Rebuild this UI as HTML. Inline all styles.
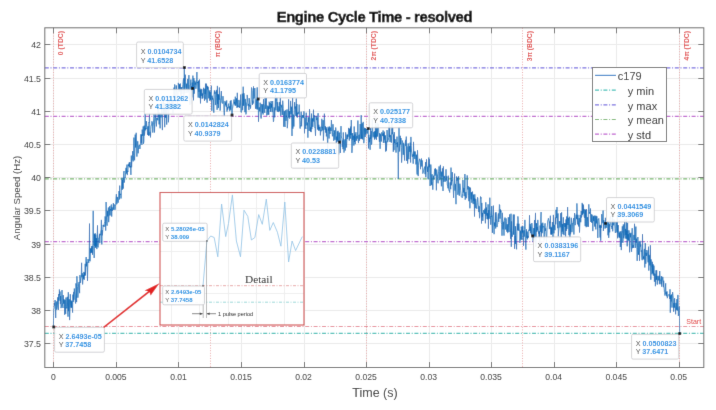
<!DOCTYPE html>
<html><head><meta charset="utf-8"><style>
html,body{margin:0;padding:0;background:#fff;}
svg{display:block;font-family:"Liberation Sans", sans-serif;}
</style></head><body>
<svg width="716" height="410" viewBox="0 0 716 410">
<defs><filter id="bl" x="0" y="0" width="100%" height="100%" filterUnits="userSpaceOnUse"><feConvolveMatrix order="3" kernelMatrix="1 10 1 10 100 10 1 10 1" edgeMode="duplicate" preserveAlpha="true"/></filter></defs>
<g filter="url(#bl)">
<rect width="716" height="410" fill="#fff"/>
<path d="M53.5 27.8V367.5M116.5 27.8V367.5M178.5 27.8V367.5M241.5 27.8V367.5M304.5 27.8V367.5M366.5 27.8V367.5M429.5 27.8V367.5M491.5 27.8V367.5M554.5 27.8V367.5M616.5 27.8V367.5M679.5 27.8V367.5M44.8 44.5H703.8M44.8 78.5H703.8M44.8 111.5H703.8M44.8 144.5H703.8M44.8 177.5H703.8M44.8 210.5H703.8M44.8 244.5H703.8M44.8 277.5H703.8M44.8 310.5H703.8M44.8 343.5H703.8" stroke="#ebebeb" stroke-width="1" fill="none"/>
<path d="M53.5 27.8V367.5M210.5 27.8V367.5M366.5 27.8V367.5M522.5 27.8V367.5M679.5 27.8V367.5" stroke="#eaa8a8" stroke-width="1" stroke-dasharray="1 1.6" fill="none"/>
<path d="M44.8 67.8H703.8" stroke="#7a70e0" stroke-opacity="1.0" stroke-width="1.2" stroke-dasharray="4 1.7 1 1.7" fill="none"/>
<path d="M44.8 116.3H703.8" stroke="#c060d0" stroke-opacity="1.0" stroke-width="1.2" stroke-dasharray="4 1.7 1 1.7" fill="none"/>
<path d="M44.8 241.6H703.8" stroke="#c060d0" stroke-opacity="1.0" stroke-width="1.2" stroke-dasharray="4 1.7 1 1.7" fill="none"/>
<path d="M44.8 178.8H703.8" stroke="#78b870" stroke-opacity="1.0" stroke-width="1.2" stroke-dasharray="4 1.7 1 1.7" fill="none"/>
<path d="M44.8 326.5H703.8" stroke="#e07080" stroke-opacity="0.8" stroke-width="1.2" stroke-dasharray="4 1.7 1 1.7" fill="none"/>
<path d="M44.8 333.4H703.8" stroke="#40c0b8" stroke-opacity="1.0" stroke-width="1.2" stroke-dasharray="4 1.7 1 1.7" fill="none"/>
<polyline points="53.4,327.0 53.7,309.5 54.1,308.3 54.4,303.0 54.7,305.5 55.1,300.0 55.4,308.2 55.7,318.0 56.1,302.4 56.4,301.5 56.7,309.7 57.0,308.1 57.4,305.6 57.7,297.3 58.0,304.6 58.4,310.0 58.7,294.0 59.0,300.7 59.4,289.5 59.7,295.2 60.0,291.5 60.4,304.1 60.7,295.8 61.0,308.1 61.4,306.8 61.7,303.8 62.0,290.0 62.3,302.4 62.7,306.5 63.0,308.0 63.3,295.1 63.7,303.7 64.0,299.3 64.3,300.0 64.7,314.8 65.0,299.9 65.3,306.4 65.7,313.9 66.0,297.5 66.3,306.3 66.7,308.4 67.0,307.8 67.3,296.8 67.6,306.9 68.0,316.7 68.3,292.2 68.6,311.2 69.0,305.5 69.3,299.3 69.6,320.1 70.0,309.9 70.3,294.2 70.6,303.9 71.0,307.7 71.3,300.6 71.6,307.8 72.0,301.2 72.3,307.5 72.6,312.6 72.9,294.6 73.3,301.8 73.6,291.9 73.9,299.8 74.3,288.5 74.6,292.7 74.9,294.8 75.3,301.9 75.6,303.5 75.9,283.4 76.3,286.9 76.6,302.1 76.9,276.2 77.3,286.5 77.6,287.9 77.9,297.7 78.2,292.2 78.6,283.8 78.9,282.2 79.2,281.9 79.6,293.2 79.9,275.1 80.2,279.0 80.6,282.9 80.9,278.8 81.2,277.7 81.6,262.8 81.9,276.8 82.2,273.2 82.6,284.4 82.9,280.2 83.2,275.1 83.6,278.8 83.9,271.9 84.2,279.8 84.5,272.7 84.9,276.0 85.2,263.8 85.5,275.2 85.9,260.0 86.2,257.0 86.5,266.3 86.9,261.9 87.2,267.6 87.5,280.9 87.9,259.3 88.2,259.0 88.5,262.6 88.9,263.0 89.2,258.2 89.5,223.6 89.8,260.9 90.2,261.2 90.5,248.4 90.8,252.9 91.2,253.0 91.5,246.2 91.8,252.8 92.2,245.8 92.5,254.8 92.8,249.6 93.2,210.8 93.5,243.9 93.8,245.7 94.2,258.0 94.5,234.0 94.8,245.9 95.1,233.2 95.5,247.8 95.8,234.5 96.1,246.4 96.5,238.1 96.8,249.1 97.1,241.6 97.5,225.4 97.8,245.9 98.1,247.4 98.5,239.7 98.8,238.0 99.1,238.0 99.5,233.8 99.8,243.2 100.1,234.4 100.4,235.2 100.8,230.6 101.1,230.0 101.4,219.9 101.8,244.4 102.1,230.1 102.4,235.3 102.8,229.7 103.1,224.9 103.4,226.3 103.8,224.9 104.1,226.9 104.4,223.3 104.8,221.5 105.1,216.4 105.4,219.3 105.7,230.6 106.1,202.0 106.4,216.0 106.7,221.3 107.1,225.7 107.4,210.9 107.7,216.4 108.1,210.9 108.4,207.5 108.7,222.2 109.1,214.8 109.4,214.9 109.7,206.2 110.1,215.5 110.4,209.1 110.7,210.4 111.0,205.5 111.4,204.5 111.7,216.6 112.0,207.4 112.4,210.9 112.7,209.3 113.0,206.4 113.4,203.0 113.7,209.9 114.0,204.3 114.4,204.9 114.7,205.0 115.0,209.8 115.4,206.5 115.7,204.2 116.0,198.0 116.4,194.1 116.7,204.3 117.0,203.8 117.3,196.9 117.7,199.2 118.0,202.8 118.3,202.5 118.7,198.9 119.0,191.0 119.3,199.5 119.7,185.6 120.0,194.6 120.3,194.7 120.7,193.8 121.0,198.5 121.3,195.3 121.7,181.2 122.0,177.7 122.3,189.8 122.6,179.9 123.0,185.1 123.3,188.6 123.6,173.8 124.0,171.0 124.3,182.6 124.6,180.3 125.0,177.7 125.3,178.0 125.6,172.4 126.0,167.8 126.3,173.7 126.6,168.8 127.0,164.6 127.3,175.1 127.6,170.8 127.9,172.0 128.3,164.3 128.6,166.2 128.9,163.3 129.3,162.4 129.6,167.3 129.9,162.0 130.3,167.3 130.6,166.3 130.9,174.9 131.3,155.6 131.6,167.3 131.9,160.8 132.3,160.0 132.6,151.1 132.9,156.5 133.2,161.4 133.6,155.4 133.9,137.6 134.2,153.1 134.6,160.3 134.9,152.1 135.2,134.6 135.6,147.5 135.9,140.0 136.2,132.8 136.6,147.0 136.9,156.6 137.2,148.9 137.6,141.2 137.9,141.3 138.2,153.3 138.5,147.5 138.9,145.7 139.2,144.9 139.5,144.9 139.9,149.0 140.2,146.6 140.5,143.0 140.9,134.3 141.2,142.9 141.5,134.5 141.9,144.9 142.2,129.6 142.5,135.9 142.9,135.5 143.2,126.4 143.5,143.8 143.9,141.6 144.2,125.6 144.5,135.5 144.8,132.1 145.2,113.8 145.5,130.3 145.8,128.0 146.2,129.1 146.5,121.1 146.8,126.1 147.2,126.5 147.5,134.9 147.8,129.1 148.2,126.2 148.5,135.9 148.8,122.2 149.2,122.9 149.5,113.1 149.8,135.4 150.1,131.8 150.5,137.4 150.8,129.4 151.1,125.4 151.5,125.4 151.8,121.4 152.1,121.4 152.5,123.0 152.8,132.6 153.1,126.2 153.5,122.7 153.8,118.7 154.1,113.7 154.5,132.5 154.8,124.7 155.1,121.8 155.4,118.7 155.8,113.6 156.1,120.2 156.4,126.4 156.8,118.1 157.1,119.0 157.4,118.5 157.8,120.3 158.1,108.9 158.4,117.1 158.8,113.0 159.1,124.4 159.4,112.5 159.8,121.7 160.1,128.3 160.4,115.6 160.7,113.0 161.1,117.4 161.4,115.6 161.7,101.8 162.1,117.5 162.4,130.1 162.7,112.2 163.1,112.6 163.4,98.9 163.7,114.3 164.1,103.2 164.4,103.9 164.7,127.2 165.1,103.2 165.4,115.7 165.7,117.8 166.0,109.6 166.4,111.6 166.7,124.6 167.0,106.1 167.4,103.2 167.7,97.0 168.0,105.5 168.4,122.3 168.7,117.9 169.0,99.5 169.4,100.2 169.7,102.4 170.0,109.6 170.4,103.2 170.7,107.1 171.0,105.3 171.4,100.1 171.7,101.4 172.0,103.7 172.3,100.4 172.7,108.0 173.0,113.3 173.3,104.1 173.7,100.1 174.0,87.6 174.3,100.3 174.7,84.4 175.0,87.3 175.3,102.3 175.7,101.7 176.0,96.1 176.3,85.4 176.7,91.2 177.0,91.1 177.3,99.0 177.6,108.6 178.0,94.8 178.3,82.9 178.6,85.2 179.0,91.5 179.3,90.5 179.6,84.1 180.0,91.8 180.3,83.5 180.6,97.7 181.0,96.9 181.3,97.5 181.6,87.0 182.0,93.8 182.3,88.6 182.6,87.1 182.9,84.5 183.3,79.9 183.6,78.3 183.9,98.2 184.3,67.6 184.6,88.3 184.9,93.2 185.3,74.7 185.6,81.3 185.9,87.5 186.3,88.8 186.6,83.7 186.9,92.9 187.3,88.5 187.6,78.9 187.9,81.0 188.2,92.3 188.6,90.4 188.9,75.1 189.2,96.1 189.6,96.2 189.9,104.9 190.2,85.1 190.6,85.0 190.9,79.5 191.2,103.7 191.6,85.9 191.9,97.4 192.2,82.6 192.6,88.4 192.9,75.6 193.2,84.2 193.5,100.3 193.9,78.2 194.2,93.7 194.5,89.0 194.9,80.7 195.2,84.7 195.5,82.5 195.9,88.8 196.2,86.0 196.5,84.0 196.9,72.0 197.2,83.1 197.5,81.9 197.9,91.0 198.2,97.6 198.5,80.7 198.9,91.8 199.2,88.2 199.5,79.5 199.8,98.1 200.2,90.2 200.5,103.4 200.8,88.7 201.2,96.1 201.5,91.1 201.8,89.2 202.2,98.7 202.5,93.5 202.8,98.2 203.2,93.8 203.5,87.8 203.8,94.3 204.2,95.1 204.5,100.9 204.8,88.7 205.1,94.2 205.5,83.6 205.8,99.4 206.1,88.4 206.5,83.7 206.8,95.0 207.1,102.7 207.5,85.9 207.8,89.4 208.1,86.8 208.5,88.8 208.8,98.4 209.1,90.4 209.5,91.8 209.8,100.9 210.1,91.9 210.4,100.1 210.8,91.0 211.1,89.4 211.4,85.7 211.8,110.8 212.1,95.7 212.4,99.4 212.8,97.9 213.1,99.9 213.4,99.8 213.8,112.7 214.1,93.6 214.4,90.4 214.8,93.9 215.1,91.7 215.4,104.8 215.7,105.1 216.1,93.1 216.4,89.9 216.7,97.2 217.1,109.8 217.4,85.9 217.7,104.1 218.1,94.0 218.4,108.1 218.7,94.7 219.1,99.9 219.4,87.5 219.7,94.8 220.1,110.6 220.4,108.2 220.7,100.1 221.0,97.3 221.4,91.0 221.7,100.8 222.0,103.0 222.4,103.6 222.7,103.3 223.0,96.1 223.4,103.3 223.7,103.4 224.0,112.5 224.4,116.9 224.7,104.7 225.0,100.9 225.4,105.4 225.7,102.8 226.0,102.3 226.3,107.0 226.7,100.4 227.0,111.6 227.3,107.1 227.7,109.8 228.0,107.5 228.3,104.6 228.7,103.6 229.0,108.3 229.3,106.4 229.7,111.2 230.0,110.2 230.3,101.0 230.7,109.7 231.0,100.2 231.3,104.5 231.7,104.8 232.0,115.0 232.3,108.6 232.6,108.5 233.0,105.1 233.3,103.5 233.6,103.1 234.0,99.5 234.3,103.8 234.6,101.9 235.0,105.4 235.3,96.7 235.6,105.7 236.0,104.9 236.3,103.2 236.6,98.3 237.0,107.8 237.3,92.8 237.6,107.1 237.9,105.7 238.3,106.2 238.6,107.2 238.9,99.9 239.3,102.4 239.6,108.0 239.9,106.7 240.3,105.2 240.6,94.6 240.9,112.0 241.3,112.5 241.6,110.8 241.9,105.6 242.3,93.7 242.6,110.2 242.9,102.7 243.2,86.7 243.6,105.8 243.9,93.2 244.2,94.5 244.6,99.2 244.9,112.2 245.2,98.9 245.6,105.3 245.9,114.4 246.2,113.6 246.6,102.7 246.9,101.8 247.2,94.9 247.6,98.2 247.9,105.6 248.2,105.5 248.5,103.9 248.9,110.1 249.2,98.1 249.5,102.1 249.9,106.5 250.2,105.2 250.5,108.6 250.9,104.6 251.2,99.7 251.5,87.5 251.9,88.4 252.2,90.7 252.5,105.0 252.9,100.7 253.2,103.5 253.5,86.4 253.8,98.6 254.2,98.1 254.5,96.6 254.8,88.0 255.2,100.8 255.5,108.8 255.8,105.6 256.2,99.4 256.5,103.6 256.8,109.3 257.2,87.4 257.5,104.8 257.8,109.5 258.2,99.0 258.5,121.8 258.8,113.3 259.2,107.6 259.5,107.4 259.8,111.4 260.1,102.7 260.5,105.8 260.8,112.1 261.1,118.5 261.5,104.1 261.8,104.2 262.1,105.6 262.5,113.1 262.8,104.2 263.1,114.5 263.5,99.1 263.8,104.6 264.1,104.7 264.5,111.4 264.8,112.9 265.1,96.3 265.4,100.3 265.8,109.0 266.1,103.2 266.4,97.9 266.8,115.5 267.1,112.5 267.4,112.1 267.8,105.6 268.1,114.9 268.4,106.4 268.8,114.7 269.1,101.7 269.4,102.4 269.8,108.9 270.1,103.0 270.4,112.0 270.7,108.9 271.1,101.0 271.4,107.6 271.7,104.1 272.1,112.1 272.4,102.5 272.7,101.0 273.1,115.5 273.4,121.9 273.7,120.7 274.1,107.4 274.4,108.3 274.7,117.4 275.1,105.9 275.4,94.9 275.7,108.7 276.0,110.4 276.4,101.6 276.7,97.0 277.0,98.5 277.4,111.8 277.7,102.1 278.0,105.9 278.4,110.6 278.7,112.1 279.0,106.3 279.4,111.3 279.7,102.0 280.0,105.5 280.4,94.7 280.7,115.8 281.0,108.5 281.3,104.8 281.7,107.7 282.0,108.6 282.3,115.0 282.7,100.7 283.0,104.3 283.3,108.6 283.7,126.7 284.0,117.3 284.3,110.9 284.7,121.1 285.0,127.0 285.3,110.4 285.7,110.1 286.0,120.9 286.3,115.8 286.7,117.1 287.0,109.4 287.3,128.2 287.6,124.6 288.0,117.1 288.3,117.6 288.6,99.3 289.0,117.0 289.3,111.0 289.6,118.6 290.0,117.1 290.3,110.3 290.6,100.9 291.0,114.2 291.3,106.7 291.6,109.3 292.0,136.0 292.3,110.7 292.6,97.4 292.9,128.7 293.3,114.6 293.6,120.1 293.9,126.5 294.3,114.3 294.6,102.1 294.9,108.5 295.3,106.5 295.6,111.0 295.9,115.9 296.3,98.5 296.6,116.9 296.9,104.0 297.3,117.6 297.6,113.0 297.9,112.5 298.2,114.3 298.6,111.8 298.9,111.2 299.2,104.6 299.6,114.9 299.9,127.7 300.2,128.6 300.6,124.5 300.9,120.4 301.2,111.7 301.6,126.3 301.9,117.0 302.2,116.6 302.6,115.1 302.9,118.1 303.2,114.9 303.5,117.7 303.9,111.3 304.2,115.4 304.5,133.3 304.9,118.0 305.2,117.6 305.5,126.6 305.9,129.0 306.2,112.7 306.5,118.2 306.9,125.4 307.2,122.5 307.5,123.2 307.9,137.7 308.2,117.2 308.5,121.8 308.8,117.8 309.2,131.0 309.5,109.1 309.8,117.4 310.2,119.0 310.5,131.7 310.8,127.3 311.2,132.1 311.5,113.6 311.8,129.2 312.2,122.0 312.5,118.4 312.8,126.9 313.2,117.2 313.5,109.7 313.8,121.5 314.1,115.0 314.5,120.8 314.8,127.9 315.1,127.5 315.5,135.9 315.8,124.1 316.1,115.9 316.5,120.1 316.8,119.0 317.1,117.6 317.5,129.5 317.8,117.7 318.1,113.2 318.5,130.7 318.8,124.7 319.1,128.7 319.5,127.2 319.8,130.6 320.1,126.7 320.4,135.4 320.8,130.3 321.1,130.6 321.4,131.2 321.8,118.8 322.1,127.4 322.4,126.9 322.8,130.5 323.1,120.1 323.4,140.5 323.8,130.9 324.1,122.8 324.4,113.7 324.8,127.0 325.1,129.8 325.4,126.1 325.7,132.6 326.1,127.1 326.4,136.4 326.7,128.7 327.1,133.4 327.4,139.8 327.7,149.6 328.1,126.8 328.4,130.7 328.7,128.3 329.1,138.5 329.4,126.5 329.7,131.2 330.1,133.9 330.4,127.7 330.7,127.5 331.0,131.0 331.4,120.0 331.7,124.4 332.0,131.8 332.4,136.3 332.7,134.5 333.0,124.2 333.4,132.5 333.7,140.8 334.0,139.5 334.4,134.9 334.7,130.3 335.0,139.9 335.4,131.6 335.7,127.5 336.0,130.2 336.3,154.1 336.7,136.6 337.0,142.0 337.3,131.4 337.7,140.6 338.0,130.8 338.3,132.6 338.7,154.4 339.0,140.6 339.3,132.5 339.7,142.1 340.0,141.0 340.3,153.0 340.7,134.6 341.0,126.1 341.3,135.8 341.6,138.0 342.0,138.8 342.3,146.8 342.6,140.6 343.0,149.2 343.3,132.4 343.6,144.6 344.0,152.6 344.3,149.3 344.6,140.3 345.0,139.3 345.3,150.5 345.6,132.4 346.0,137.2 346.3,141.2 346.6,147.5 347.0,134.5 347.3,139.1 347.6,134.7 347.9,136.9 348.3,134.5 348.6,127.9 348.9,135.2 349.3,140.6 349.6,128.6 349.9,133.7 350.3,138.7 350.6,126.6 350.9,135.1 351.3,120.0 351.6,141.9 351.9,152.9 352.3,148.1 352.6,133.0 352.9,139.9 353.2,135.7 353.6,136.0 353.9,145.6 354.2,126.5 354.6,142.0 354.9,134.4 355.2,144.2 355.6,136.7 355.9,132.2 356.2,138.1 356.6,140.7 356.9,135.9 357.2,138.7 357.6,131.8 357.9,120.5 358.2,140.5 358.5,143.1 358.9,135.0 359.2,134.7 359.5,140.7 359.9,130.8 360.2,124.0 360.5,131.2 360.9,139.1 361.2,115.2 361.5,138.9 361.9,127.0 362.2,123.3 362.5,139.4 362.9,130.1 363.2,121.9 363.5,128.7 363.8,143.2 364.2,138.3 364.5,127.8 364.8,133.9 365.2,137.0 365.5,128.1 365.8,134.5 366.2,132.0 366.5,129.0 366.8,129.0 367.2,133.6 367.5,132.8 367.8,130.2 368.2,128.6 368.5,148.4 368.8,134.8 369.1,139.7 369.5,142.2 369.8,137.6 370.1,149.8 370.5,128.0 370.8,138.8 371.1,131.0 371.5,144.7 371.8,143.8 372.1,119.3 372.5,119.8 372.8,136.6 373.1,137.3 373.5,136.8 373.8,131.9 374.1,134.6 374.5,139.6 374.8,131.1 375.1,138.7 375.4,117.8 375.8,137.2 376.1,126.4 376.4,139.9 376.8,132.6 377.1,122.6 377.4,136.6 377.8,127.6 378.1,127.5 378.4,123.9 378.8,134.1 379.1,138.0 379.4,141.8 379.8,133.0 380.1,148.8 380.4,134.6 380.7,134.0 381.1,138.3 381.4,141.5 381.7,132.3 382.1,133.6 382.4,134.2 382.7,136.1 383.1,130.4 383.4,142.9 383.7,133.3 384.1,139.6 384.4,131.7 384.7,140.1 385.1,143.1 385.4,135.4 385.7,151.6 386.0,141.4 386.4,150.7 386.7,145.0 387.0,130.0 387.4,136.2 387.7,142.2 388.0,139.6 388.4,139.7 388.7,137.8 389.0,122.8 389.4,137.2 389.7,125.1 390.0,142.0 390.4,134.9 390.7,135.6 391.0,137.8 391.3,142.7 391.7,131.7 392.0,123.4 392.3,134.2 392.7,127.6 393.0,135.4 393.3,151.8 393.7,134.6 394.0,150.2 394.3,132.1 394.7,143.2 395.0,139.1 395.3,141.2 395.7,145.3 396.0,152.6 396.3,143.2 396.6,143.8 397.0,136.6 397.3,147.2 397.6,142.3 398.0,154.6 398.3,179.0 398.6,156.2 399.0,126.8 399.3,143.2 399.6,151.5 400.0,144.3 400.3,135.8 400.6,144.4 401.0,138.0 401.3,147.4 401.6,162.6 402.0,154.9 402.3,140.5 402.6,141.7 402.9,142.6 403.3,154.8 403.6,143.2 403.9,144.7 404.3,155.2 404.6,160.5 404.9,146.1 405.3,142.3 405.6,139.9 405.9,146.1 406.3,136.6 406.6,160.9 406.9,146.4 407.3,153.8 407.6,163.6 407.9,159.0 408.2,143.4 408.6,157.3 408.9,159.2 409.2,147.1 409.6,146.2 409.9,151.9 410.2,142.6 410.6,162.5 410.9,136.9 411.2,145.5 411.6,152.0 411.9,152.9 412.2,156.8 412.6,156.5 412.9,154.3 413.2,163.7 413.5,141.9 413.9,156.2 414.2,151.4 414.5,157.6 414.9,159.1 415.2,151.5 415.5,154.2 415.9,164.4 416.2,161.2 416.5,154.7 416.9,172.7 417.2,174.6 417.5,150.2 417.9,161.4 418.2,176.1 418.5,165.6 418.8,162.8 419.2,160.9 419.5,158.8 419.8,160.0 420.2,159.8 420.5,169.2 420.8,162.5 421.2,160.1 421.5,158.5 421.8,166.5 422.2,160.4 422.5,165.0 422.8,173.6 423.2,172.3 423.5,170.5 423.8,170.0 424.1,168.4 424.5,167.3 424.8,166.6 425.1,174.2 425.5,162.0 425.8,177.2 426.1,169.3 426.5,159.3 426.8,166.0 427.1,166.1 427.5,172.0 427.8,166.8 428.1,179.3 428.5,167.3 428.8,157.5 429.1,167.3 429.4,159.1 429.8,172.2 430.1,186.0 430.4,177.2 430.8,164.5 431.1,167.9 431.4,185.2 431.8,176.1 432.1,174.2 432.4,181.5 432.8,189.7 433.1,183.3 433.4,175.7 433.8,179.4 434.1,179.3 434.4,171.7 434.8,168.9 435.1,175.7 435.4,168.2 435.7,174.1 436.1,175.5 436.4,190.3 436.7,169.5 437.1,174.7 437.4,174.7 437.7,178.8 438.1,183.3 438.4,173.0 438.7,171.2 439.1,166.4 439.4,171.2 439.7,180.2 440.1,178.3 440.4,164.9 440.7,176.3 441.0,179.6 441.4,186.3 441.7,171.7 442.0,176.6 442.4,168.3 442.7,172.9 443.0,191.0 443.4,166.4 443.7,178.6 444.0,181.9 444.4,178.2 444.7,175.9 445.0,180.5 445.4,181.6 445.7,181.3 446.0,169.3 446.3,180.7 446.7,176.3 447.0,178.3 447.3,185.0 447.7,186.2 448.0,188.3 448.3,175.7 448.7,189.0 449.0,190.4 449.3,190.0 449.7,192.5 450.0,182.8 450.3,182.3 450.7,189.2 451.0,167.6 451.3,185.3 451.6,180.0 452.0,181.1 452.3,172.1 452.6,178.3 453.0,184.2 453.3,190.3 453.6,197.9 454.0,184.4 454.3,184.1 454.6,173.6 455.0,190.6 455.3,183.9 455.6,189.3 456.0,204.2 456.3,184.9 456.6,176.4 456.9,180.7 457.3,177.6 457.6,179.2 457.9,194.8 458.3,188.2 458.6,176.2 458.9,190.7 459.3,195.8 459.6,185.8 459.9,183.7 460.3,186.0 460.6,190.2 460.9,193.0 461.3,196.7 461.6,197.0 461.9,197.2 462.3,197.9 462.6,193.6 462.9,180.0 463.2,189.0 463.6,192.4 463.9,187.8 464.2,196.2 464.6,187.7 464.9,174.0 465.2,199.7 465.6,194.9 465.9,192.1 466.2,197.1 466.6,198.2 466.9,193.4 467.2,175.4 467.6,187.8 467.9,189.5 468.2,186.0 468.5,195.3 468.9,201.2 469.2,187.1 469.5,187.0 469.9,208.3 470.2,192.4 470.5,187.7 470.9,197.8 471.2,199.4 471.5,192.2 471.9,202.8 472.2,194.7 472.5,191.6 472.9,199.2 473.2,204.1 473.5,194.6 473.8,200.8 474.2,198.2 474.5,216.5 474.8,194.3 475.2,208.2 475.5,198.9 475.8,199.1 476.2,205.2 476.5,206.2 476.8,208.8 477.2,202.5 477.5,197.3 477.8,197.9 478.2,204.9 478.5,206.2 478.8,212.1 479.1,206.2 479.5,218.2 479.8,214.7 480.1,206.5 480.5,196.5 480.8,198.4 481.1,197.4 481.5,223.5 481.8,202.9 482.1,217.1 482.5,212.9 482.8,220.9 483.1,216.5 483.5,210.2 483.8,210.1 484.1,212.3 484.4,213.9 484.8,208.7 485.1,212.3 485.4,223.3 485.8,202.3 486.1,215.5 486.4,207.5 486.8,214.6 487.1,219.1 487.4,213.2 487.8,219.3 488.1,204.3 488.4,228.7 488.8,210.1 489.1,218.8 489.4,216.0 489.8,197.7 490.1,209.8 490.4,215.8 490.7,224.7 491.1,216.3 491.4,216.9 491.7,206.0 492.1,225.1 492.4,232.9 492.7,216.0 493.1,214.3 493.4,205.6 493.7,223.0 494.1,234.2 494.4,222.5 494.7,226.2 495.1,222.1 495.4,212.7 495.7,228.5 496.0,212.2 496.4,218.9 496.7,222.6 497.0,227.1 497.4,224.2 497.7,223.9 498.0,216.4 498.4,213.4 498.7,222.0 499.0,216.7 499.4,204.5 499.7,205.1 500.0,218.7 500.4,209.4 500.7,212.4 501.0,210.5 501.3,222.5 501.7,224.5 502.0,235.7 502.3,212.8 502.7,218.8 503.0,229.4 503.3,222.1 503.7,221.8 504.0,235.6 504.3,220.7 504.7,218.3 505.0,217.5 505.3,229.4 505.7,229.3 506.0,218.3 506.3,221.6 506.6,231.3 507.0,231.8 507.3,224.2 507.6,232.8 508.0,232.7 508.3,217.2 508.6,227.2 509.0,232.0 509.3,225.3 509.6,214.4 510.0,226.9 510.3,233.4 510.6,238.8 511.0,213.7 511.3,246.8 511.6,221.4 511.9,234.6 512.3,236.7 512.6,234.9 512.9,230.5 513.3,214.5 513.6,234.7 513.9,221.1 514.3,214.6 514.6,248.8 514.9,236.1 515.3,244.0 515.6,226.2 515.9,242.0 516.3,242.7 516.6,249.3 516.9,231.7 517.3,223.6 517.6,230.3 517.9,216.4 518.2,219.7 518.6,230.7 518.9,223.7 519.2,229.1 519.6,229.7 519.9,242.9 520.2,238.8 520.6,230.7 520.9,239.6 521.2,226.8 521.6,228.6 521.9,239.8 522.2,225.9 522.6,232.7 522.9,226.2 523.2,235.3 523.5,245.9 523.9,230.4 524.2,236.7 524.5,229.4 524.9,219.9 525.2,226.5 525.5,243.3 525.9,249.6 526.2,237.6 526.5,229.3 526.9,238.1 527.2,231.5 527.5,239.3 527.9,235.8 528.2,236.1 528.5,237.7 528.8,229.8 529.2,230.9 529.5,215.2 529.8,230.3 530.2,223.9 530.5,233.1 530.8,226.6 531.2,233.5 531.5,235.7 531.8,223.0 532.2,226.5 532.5,236.0 532.8,236.1 533.2,241.9 533.5,236.1 533.8,228.0 534.1,239.4 534.5,220.0 534.8,240.4 535.1,226.1 535.5,212.9 535.8,246.8 536.1,240.8 536.5,223.1 536.8,231.9 537.1,226.9 537.5,230.3 537.8,219.9 538.1,225.7 538.5,233.6 538.8,231.6 539.1,238.4 539.4,231.4 539.8,246.0 540.1,225.5 540.4,231.7 540.8,216.9 541.1,212.0 541.4,238.2 541.8,223.4 542.1,233.2 542.4,229.7 542.8,222.7 543.1,227.3 543.4,226.4 543.8,226.7 544.1,240.3 544.4,234.6 544.7,225.8 545.1,223.3 545.4,230.8 545.7,228.4 546.1,235.5 546.4,244.3 546.7,239.8 547.1,227.1 547.4,225.9 547.7,220.7 548.1,219.8 548.4,218.3 548.7,219.6 549.1,222.0 549.4,229.1 549.7,221.7 550.1,222.9 550.4,215.7 550.7,234.4 551.0,226.8 551.4,234.8 551.7,227.6 552.0,233.9 552.4,222.0 552.7,228.2 553.0,240.9 553.4,214.9 553.7,230.4 554.0,233.3 554.4,224.9 554.7,227.1 555.0,230.2 555.4,217.5 555.7,224.3 556.0,209.8 556.3,217.4 556.7,218.1 557.0,207.0 557.3,222.4 557.7,228.2 558.0,213.4 558.3,236.3 558.7,231.0 559.0,228.4 559.3,221.1 559.7,222.9 560.0,227.4 560.3,226.8 560.7,213.1 561.0,229.9 561.3,240.6 561.6,212.3 562.0,231.7 562.3,230.7 562.6,223.9 563.0,234.2 563.3,217.3 563.6,226.4 564.0,235.2 564.3,224.3 564.6,223.0 565.0,227.0 565.3,223.2 565.6,236.5 566.0,219.4 566.3,231.0 566.6,216.5 566.9,229.1 567.3,223.2 567.6,207.1 567.9,225.0 568.3,217.8 568.6,221.6 568.9,235.2 569.3,216.8 569.6,216.9 569.9,239.5 570.3,224.6 570.6,234.3 570.9,226.0 571.3,217.8 571.6,222.6 571.9,232.2 572.2,229.8 572.6,223.1 572.9,223.5 573.2,221.2 573.6,218.1 573.9,234.5 574.2,221.2 574.6,213.0 574.9,216.9 575.2,225.2 575.6,223.8 575.9,218.2 576.2,214.6 576.6,219.1 576.9,203.4 577.2,210.2 577.6,224.4 577.9,214.8 578.2,220.5 578.5,226.4 578.9,222.2 579.2,218.1 579.5,232.5 579.9,222.6 580.2,214.9 580.5,222.0 580.9,222.3 581.2,211.0 581.5,217.5 581.9,215.5 582.2,202.9 582.5,214.8 582.9,204.0 583.2,213.5 583.5,205.2 583.8,212.2 584.2,216.7 584.5,217.9 584.8,209.2 585.2,226.1 585.5,209.8 585.8,217.1 586.2,227.2 586.5,209.1 586.8,215.9 587.2,226.8 587.5,217.1 587.8,217.4 588.2,221.3 588.5,226.8 588.8,204.3 589.1,213.4 589.5,212.5 589.8,212.4 590.1,214.0 590.5,208.5 590.8,222.0 591.1,214.0 591.5,221.5 591.8,222.9 592.1,214.7 592.5,220.3 592.8,231.1 593.1,222.2 593.5,216.2 593.8,221.1 594.1,215.6 594.4,223.2 594.8,226.6 595.1,215.7 595.4,220.5 595.8,229.4 596.1,215.8 596.4,223.4 596.8,216.2 597.1,218.3 597.4,220.2 597.8,237.9 598.1,220.5 598.4,219.0 598.8,218.4 599.1,221.5 599.4,227.7 599.7,225.3 600.1,237.5 600.4,224.9 600.7,240.7 601.1,225.6 601.4,227.7 601.7,214.1 602.1,222.9 602.4,223.2 602.7,222.5 603.1,210.5 603.4,231.0 603.7,220.0 604.1,222.6 604.4,223.8 604.7,223.1 605.1,228.6 605.4,217.8 605.7,223.3 606.0,228.0 606.4,227.2 606.7,223.1 607.0,222.4 607.4,221.7 607.7,226.9 608.0,235.3 608.4,220.6 608.7,237.9 609.0,233.2 609.4,224.2 609.7,232.3 610.0,217.8 610.4,216.2 610.7,219.4 611.0,225.6 611.3,226.7 611.7,226.1 612.0,229.1 612.3,214.3 612.7,231.3 613.0,219.1 613.3,224.0 613.7,225.3 614.0,220.5 614.3,219.6 614.7,221.8 615.0,228.4 615.3,233.0 615.7,232.2 616.0,222.0 616.3,223.1 616.6,222.4 617.0,232.5 617.3,215.9 617.6,238.3 618.0,227.0 618.3,225.1 618.6,232.9 619.0,237.4 619.3,232.7 619.6,237.7 620.0,231.5 620.3,247.0 620.6,239.8 621.0,231.2 621.3,250.1 621.6,233.2 621.9,232.4 622.3,226.3 622.6,230.5 622.9,242.8 623.3,224.4 623.6,238.3 623.9,235.9 624.3,235.5 624.6,219.3 624.9,233.5 625.3,238.6 625.6,228.9 625.9,234.8 626.3,218.8 626.6,238.9 626.9,230.5 627.2,246.3 627.6,222.8 627.9,240.1 628.2,234.2 628.6,240.6 628.9,230.3 629.2,233.0 629.6,252.3 629.9,233.1 630.2,233.6 630.6,237.3 630.9,232.8 631.2,247.9 631.6,251.8 631.9,235.0 632.2,228.2 632.5,248.2 632.9,246.8 633.2,245.0 633.5,248.0 633.9,234.9 634.2,240.1 634.5,223.8 634.9,231.3 635.2,248.0 635.5,236.8 635.9,226.6 636.2,242.7 636.5,238.7 636.9,249.6 637.2,260.9 637.5,247.2 637.9,237.0 638.2,250.3 638.5,254.8 638.8,243.6 639.2,241.6 639.5,260.9 639.8,249.0 640.2,240.9 640.5,246.5 640.8,244.5 641.2,251.6 641.5,250.5 641.8,257.3 642.2,260.2 642.5,234.2 642.8,254.6 643.2,258.6 643.5,256.5 643.8,259.5 644.1,250.1 644.5,248.9 644.8,267.5 645.1,243.0 645.5,243.7 645.8,263.8 646.1,252.7 646.5,255.9 646.8,250.0 647.1,251.1 647.5,252.5 647.8,258.0 648.1,262.4 648.5,246.7 648.8,270.6 649.1,254.8 649.4,255.6 649.8,265.4 650.1,260.7 650.4,245.3 650.8,279.7 651.1,259.4 651.4,266.5 651.8,266.5 652.1,274.3 652.4,261.8 652.8,273.1 653.1,264.2 653.4,275.6 653.8,265.5 654.1,266.2 654.4,281.7 654.7,273.6 655.1,273.9 655.4,286.2 655.7,275.6 656.1,270.2 656.4,279.9 656.7,270.3 657.1,284.2 657.4,284.6 657.7,275.9 658.1,276.3 658.4,280.4 658.7,280.1 659.1,275.7 659.4,284.2 659.7,271.0 660.0,277.4 660.4,280.0 660.7,281.2 661.0,284.3 661.4,276.0 661.7,286.7 662.0,282.1 662.4,280.2 662.7,276.8 663.0,277.9 663.4,287.2 663.7,280.7 664.0,286.3 664.4,291.8 664.7,292.4 665.0,295.6 665.4,286.9 665.7,283.3 666.0,294.2 666.3,291.9 666.7,296.3 667.0,291.4 667.3,298.2 667.7,296.7 668.0,296.1 668.3,295.1 668.7,294.6 669.0,294.1 669.3,294.4 669.7,299.0 670.0,289.3 670.3,312.7 670.7,295.3 671.0,301.6 671.3,296.1 671.6,294.5 672.0,307.6 672.3,295.9 672.6,292.0 673.0,295.6 673.3,298.6 673.6,311.7 674.0,303.0 674.3,307.7 674.6,298.2 675.0,305.5 675.3,307.8 675.6,314.3 676.0,302.9 676.3,310.1 676.6,309.5 676.9,299.1 677.3,310.6 677.6,310.0 677.9,294.9 678.3,315.7 678.6,316.0 678.9,310.9 679.3,306.6 679.7,333.5" fill="none" stroke="#0864b4" stroke-width="0.72" stroke-linejoin="round"/>
<rect x="44.8" y="27.8" width="659.0" height="339.7" fill="none" stroke="#6a6a6a" stroke-width="1"/>
<path d="M53.5 367.5v-5.5M53.5 27.8v5.5M116.5 367.5v-5.5M116.5 27.8v5.5M178.5 367.5v-5.5M178.5 27.8v5.5M241.5 367.5v-5.5M241.5 27.8v5.5M304.5 367.5v-5.5M304.5 27.8v5.5M366.5 367.5v-5.5M366.5 27.8v5.5M429.5 367.5v-5.5M429.5 27.8v5.5M491.5 367.5v-5.5M491.5 27.8v5.5M554.5 367.5v-5.5M554.5 27.8v5.5M616.5 367.5v-5.5M616.5 27.8v5.5M679.5 367.5v-5.5M679.5 27.8v5.5M44.8 44.5h5.5M703.8 44.5h-5.5M44.8 78.5h5.5M703.8 78.5h-5.5M44.8 111.5h5.5M703.8 111.5h-5.5M44.8 144.5h5.5M703.8 144.5h-5.5M44.8 177.5h5.5M703.8 177.5h-5.5M44.8 210.5h5.5M703.8 210.5h-5.5M44.8 244.5h5.5M703.8 244.5h-5.5M44.8 277.5h5.5M703.8 277.5h-5.5M44.8 310.5h5.5M703.8 310.5h-5.5M44.8 343.5h5.5M703.8 343.5h-5.5" stroke="#6a6a6a" stroke-width="1" fill="none"/>
<text x="53.4" y="380.4" text-anchor="middle" font-size="8.6" fill="#2e2e2e">0</text>
<text x="115.9" y="380.4" text-anchor="middle" font-size="8.6" fill="#2e2e2e">0.005</text>
<text x="178.5" y="380.4" text-anchor="middle" font-size="8.6" fill="#2e2e2e">0.01</text>
<text x="241.0" y="380.4" text-anchor="middle" font-size="8.6" fill="#2e2e2e">0.015</text>
<text x="303.5" y="380.4" text-anchor="middle" font-size="8.6" fill="#2e2e2e">0.02</text>
<text x="366.1" y="380.4" text-anchor="middle" font-size="8.6" fill="#2e2e2e">0.025</text>
<text x="428.6" y="380.4" text-anchor="middle" font-size="8.6" fill="#2e2e2e">0.03</text>
<text x="491.1" y="380.4" text-anchor="middle" font-size="8.6" fill="#2e2e2e">0.035</text>
<text x="553.6" y="380.4" text-anchor="middle" font-size="8.6" fill="#2e2e2e">0.04</text>
<text x="616.2" y="380.4" text-anchor="middle" font-size="8.6" fill="#2e2e2e">0.045</text>
<text x="678.7" y="380.4" text-anchor="middle" font-size="8.6" fill="#2e2e2e">0.05</text>
<text x="41" y="48.4" text-anchor="end" font-size="8.8" fill="#2e2e2e">42</text>
<text x="41" y="81.6" text-anchor="end" font-size="8.8" fill="#2e2e2e">41.5</text>
<text x="41" y="114.8" text-anchor="end" font-size="8.8" fill="#2e2e2e">41</text>
<text x="41" y="148.0" text-anchor="end" font-size="8.8" fill="#2e2e2e">40.5</text>
<text x="41" y="181.2" text-anchor="end" font-size="8.8" fill="#2e2e2e">40</text>
<text x="41" y="214.4" text-anchor="end" font-size="8.8" fill="#2e2e2e">39.5</text>
<text x="41" y="247.6" text-anchor="end" font-size="8.8" fill="#2e2e2e">39</text>
<text x="41" y="280.8" text-anchor="end" font-size="8.8" fill="#2e2e2e">38.5</text>
<text x="41" y="314.0" text-anchor="end" font-size="8.8" fill="#2e2e2e">38</text>
<text x="41" y="347.2" text-anchor="end" font-size="8.8" fill="#2e2e2e">37.5</text>
<text x="374.4" y="22" text-anchor="middle" font-size="14.8" font-weight="bold" letter-spacing="-0.35" fill="#000" stroke="#000" stroke-width="0.35">Engine Cycle Time - resolved</text>
<text x="375" y="396.5" text-anchor="middle" font-size="12.5" fill="#2e2e2e">Time (s)</text>
<text transform="translate(19.8 198) rotate(-90)" text-anchor="middle" font-size="9.6" fill="#2e2e2e">Angular Speed (Hz)</text>
<text transform="translate(62.8 31) rotate(-90)" text-anchor="end" font-size="6.8" font-weight="bold" fill="#e04848">0 (TDC)</text>
<text transform="translate(219.8 31) rotate(-90)" text-anchor="end" font-size="6.8" font-weight="bold" fill="#e04848">π (BDC)</text>
<text transform="translate(375.8 31) rotate(-90)" text-anchor="end" font-size="6.8" font-weight="bold" fill="#e04848">2π (TDC)</text>
<text transform="translate(531.8 31) rotate(-90)" text-anchor="end" font-size="6.8" font-weight="bold" fill="#e04848">3π (BDC)</text>
<text transform="translate(688.8 31) rotate(-90)" text-anchor="end" font-size="6.8" font-weight="bold" fill="#e04848">4π (TDC)</text>
<text x="686.3" y="323.7" font-size="7" fill="#e03c3c">Start</text>
<rect x="592.5" y="67.5" width="74.0" height="74.0" fill="#fff" stroke="#707070" stroke-width="1"/>
<path d="M595 75.4H616" stroke="#3a88cc" stroke-width="1.2"  fill="none"/>
<text x="617.8" y="80.3" font-size="11" fill="#222">c179</text>
<path d="M595 90.1H616" stroke="#40c0b8" stroke-width="1.2" stroke-dasharray="4 1.7 1 1.7" fill="none"/>
<text x="627.8" y="95.0" font-size="11" fill="#222">y min</text>
<path d="M595 104.8H616" stroke="#7a70e0" stroke-width="1.2" stroke-dasharray="4 1.7 1 1.7" fill="none"/>
<text x="627.8" y="109.7" font-size="11" fill="#222">y max</text>
<path d="M595 119.5H616" stroke="#78b870" stroke-width="1.2" stroke-dasharray="4 1.7 1 1.7" fill="none"/>
<text x="627.8" y="124.4" font-size="11" fill="#222">y mean</text>
<path d="M595 134.2H616" stroke="#c060d0" stroke-width="1.2" stroke-dasharray="4 1.7 1 1.7" fill="none"/>
<text x="627.8" y="139.1" font-size="11" fill="#222">y std</text>
<rect x="160" y="192.5" width="144" height="132.5" fill="#fff" stroke="none"/>
<path d="M171.5 192.5V325M199.5 192.5V325M228.5 192.5V325M256.5 192.5V325M284.5 192.5V325M160 208.5H304M160 251.5H304M160 293.5H304" stroke="#efefef" stroke-width="1" fill="none"/>
<path d="M160 285.7H304" stroke="#e8a8a8" stroke-width="1" stroke-dasharray="3 1.5 1 1.5" fill="none"/>
<path d="M160 302.2H304" stroke="#9ad8d8" stroke-width="1" stroke-dasharray="3 1.5 1 1.5" fill="none"/>
<polyline points="203,285.7 206.9,241 210.7,236 214.2,237.5 217.8,256.8 221.6,204 225.7,236.6 228.5,223.4 232.4,194.9 236.4,241 240.5,256.8 244,210.2 247.8,216.4 251.4,240 254.9,237.5 258.7,214.6 262.3,224.3 266.3,199.1 269.8,230.4 273.3,222.5 277.4,232.2 280.9,246.2 284.8,202 288.6,262 292.1,241 295.6,250.6 302.3,236.6" fill="none" stroke="#8cc0e4" stroke-width="0.8"/>
<path d="M203.2 286V318M206.5 242V318" stroke="#8a8a8a" stroke-width="0.6" fill="none"/>
<path d="M192 313.7H202.5M207 313.7H216" stroke="#333" stroke-width="0.6" fill="none"/>
<path d="M202.8 313.7l-3 -1.2v2.4z M206.6 313.7l3 -1.2v2.4z" fill="#333"/>
<text x="218" y="315.7" font-size="5.6" fill="#222">1 pulse period</text>
<text x="245" y="282.8" font-size="11.3" font-family="'Liberation Serif', serif" fill="#222">Detail</text>
<rect x="160" y="192.5" width="144" height="132.5" fill="none" stroke="#d05050" stroke-width="1.1"/>
<rect x="136.6" y="42" width="46.70000000000002" height="25.700000000000003" rx="1.5" fill="#fff" fill-opacity="0.93" stroke="#c8c8cc" stroke-width="0.8"/>
<text x="140.7" y="53.7" font-size="7.2" fill="#4a4a4a">X <tspan font-weight="bold" fill="#1a8ee2">0.0104734</tspan></text>
<text x="140.7" y="62.5" font-size="7.2" fill="#4a4a4a">Y <tspan font-weight="bold" fill="#1a8ee2">41.6528</tspan></text>
<rect x="182.98" y="66.15" width="2.8" height="2.8" fill="#151515"/>
<rect x="144.3" y="89.4" width="47.79999999999998" height="24.799999999999997" rx="1.5" fill="#fff" fill-opacity="0.93" stroke="#c8c8cc" stroke-width="0.8"/>
<text x="148.4" y="100.6" font-size="7.2" fill="#4a4a4a">X <tspan font-weight="bold" fill="#1a8ee2">0.0111262</tspan></text>
<text x="148.4" y="109.4" font-size="7.2" fill="#4a4a4a">Y <tspan font-weight="bold" fill="#1a8ee2">41.3382</tspan></text>
<rect x="191.14" y="87.04" width="2.8" height="2.8" fill="#151515"/>
<rect x="183.8" y="115.8" width="47.79999999999998" height="25.299999999999997" rx="1.5" fill="#fff" fill-opacity="0.93" stroke="#c8c8cc" stroke-width="0.8"/>
<text x="187.9" y="127.3" font-size="7.2" fill="#4a4a4a">X <tspan font-weight="bold" fill="#1a8ee2">0.0142824</tspan></text>
<text x="187.9" y="136.1" font-size="7.2" fill="#4a4a4a">Y <tspan font-weight="bold" fill="#1a8ee2">40.9379</tspan></text>
<rect x="230.62" y="113.62" width="2.8" height="2.8" fill="#151515"/>
<rect x="259.2" y="73.4" width="47.30000000000001" height="24.5" rx="1.5" fill="#fff" fill-opacity="0.93" stroke="#c8c8cc" stroke-width="0.8"/>
<text x="263.3" y="84.5" font-size="7.2" fill="#4a4a4a">X <tspan font-weight="bold" fill="#1a8ee2">0.0163774</tspan></text>
<text x="263.3" y="93.3" font-size="7.2" fill="#4a4a4a">Y <tspan font-weight="bold" fill="#1a8ee2">41.1795</tspan></text>
<rect x="256.82" y="97.58" width="2.8" height="2.8" fill="#151515"/>
<rect x="291.3" y="143" width="47.39999999999998" height="25.19999999999999" rx="1.5" fill="#fff" fill-opacity="0.93" stroke="#c8c8cc" stroke-width="0.8"/>
<text x="295.4" y="154.4" font-size="7.2" fill="#4a4a4a">X <tspan font-weight="bold" fill="#1a8ee2">0.0228881</tspan></text>
<text x="295.4" y="163.2" font-size="7.2" fill="#4a4a4a">Y <tspan font-weight="bold" fill="#1a8ee2">40.53</tspan></text>
<rect x="338.24" y="140.71" width="2.8" height="2.8" fill="#151515"/>
<rect x="369.2" y="102.8" width="43.5" height="25.0" rx="1.5" fill="#fff" fill-opacity="0.93" stroke="#c8c8cc" stroke-width="0.8"/>
<text x="373.3" y="114.1" font-size="7.2" fill="#4a4a4a">X <tspan font-weight="bold" fill="#1a8ee2">0.025177</tspan></text>
<text x="373.3" y="122.9" font-size="7.2" fill="#4a4a4a">Y <tspan font-weight="bold" fill="#1a8ee2">40.7338</tspan></text>
<rect x="366.86" y="127.18" width="2.8" height="2.8" fill="#151515"/>
<rect x="533.5" y="236.9" width="47.200000000000045" height="24.799999999999983" rx="1.5" fill="#fff" fill-opacity="0.93" stroke="#c8c8cc" stroke-width="0.8"/>
<text x="537.6" y="248.1" font-size="7.2" fill="#4a4a4a">X <tspan font-weight="bold" fill="#1a8ee2">0.0383196</tspan></text>
<text x="537.6" y="256.9" font-size="7.2" fill="#4a4a4a">Y <tspan font-weight="bold" fill="#1a8ee2">39.1167</tspan></text>
<rect x="531.22" y="234.55" width="2.8" height="2.8" fill="#151515"/>
<rect x="606.5" y="197.6" width="47.799999999999955" height="24.400000000000006" rx="1.5" fill="#fff" fill-opacity="0.93" stroke="#c8c8cc" stroke-width="0.8"/>
<text x="610.6" y="208.6" font-size="7.2" fill="#4a4a4a">X <tspan font-weight="bold" fill="#1a8ee2">0.0441549</tspan></text>
<text x="610.6" y="217.4" font-size="7.2" fill="#4a4a4a">Y <tspan font-weight="bold" fill="#1a8ee2">39.3069</tspan></text>
<rect x="604.20" y="221.92" width="2.8" height="2.8" fill="#151515"/>
<rect x="631.6" y="334.3" width="47.10000000000002" height="24.80000000000001" rx="1.5" fill="#fff" fill-opacity="0.93" stroke="#c8c8cc" stroke-width="0.8"/>
<text x="635.7" y="345.5" font-size="7.2" fill="#4a4a4a">X <tspan font-weight="bold" fill="#1a8ee2">0.0500823</tspan></text>
<text x="635.7" y="354.3" font-size="7.2" fill="#4a4a4a">Y <tspan font-weight="bold" fill="#1a8ee2">37.6471</tspan></text>
<rect x="678.33" y="332.13" width="2.8" height="2.8" fill="#151515"/>
<rect x="54.6" y="327.3" width="49.800000000000004" height="24.899999999999977" rx="1.5" fill="#fff" fill-opacity="0.93" stroke="#c8c8cc" stroke-width="0.8"/>
<text x="58.7" y="338.6" font-size="7.2" fill="#4a4a4a">X <tspan font-weight="bold" fill="#1a8ee2">2.6493e-05</tspan></text>
<text x="58.7" y="347.4" font-size="7.2" fill="#4a4a4a">Y <tspan font-weight="bold" fill="#1a8ee2">37.7458</tspan></text>
<rect x="52.33" y="325.58" width="2.8" height="2.8" fill="#151515"/>
<rect x="162.7" y="223.2" width="44.5" height="18.100000000000023" rx="1.5" fill="#fff" fill-opacity="0.93" stroke="#c8c8cc" stroke-width="0.8"/>
<text x="165.3" y="231.3" font-size="6.0" fill="#4a4a4a">X <tspan font-weight="bold" fill="#1a8ee2">5.28026e-05</tspan></text>
<text x="165.3" y="238.9" font-size="6.0" fill="#4a4a4a">Y <tspan font-weight="bold" fill="#1a8ee2">38.009</tspan></text>
<rect x="206.10" y="240.20" width="1.6" height="1.6" fill="#666"/>
<rect x="162.7" y="286" width="41.80000000000001" height="18.80000000000001" rx="1.5" fill="#fff" fill-opacity="0.93" stroke="#c8c8cc" stroke-width="0.8"/>
<text x="165.3" y="294.4" font-size="6.0" fill="#4a4a4a">X <tspan font-weight="bold" fill="#1a8ee2">2.6493e-05</tspan></text>
<text x="165.3" y="302.0" font-size="6.0" fill="#4a4a4a">Y <tspan font-weight="bold" fill="#1a8ee2">37.7458</tspan></text>
<rect x="202.20" y="284.90" width="1.6" height="1.6" fill="#666"/>
<path d="M103.7 327.4L155.5 286.5" stroke="#e22424" stroke-width="1.6" fill="none"/>
<path d="M159.5 283.3L144.6 290.4L149.2 291.6L150.7 295.6Z" fill="#e22424"/>
</g>
</svg>
</body></html>
